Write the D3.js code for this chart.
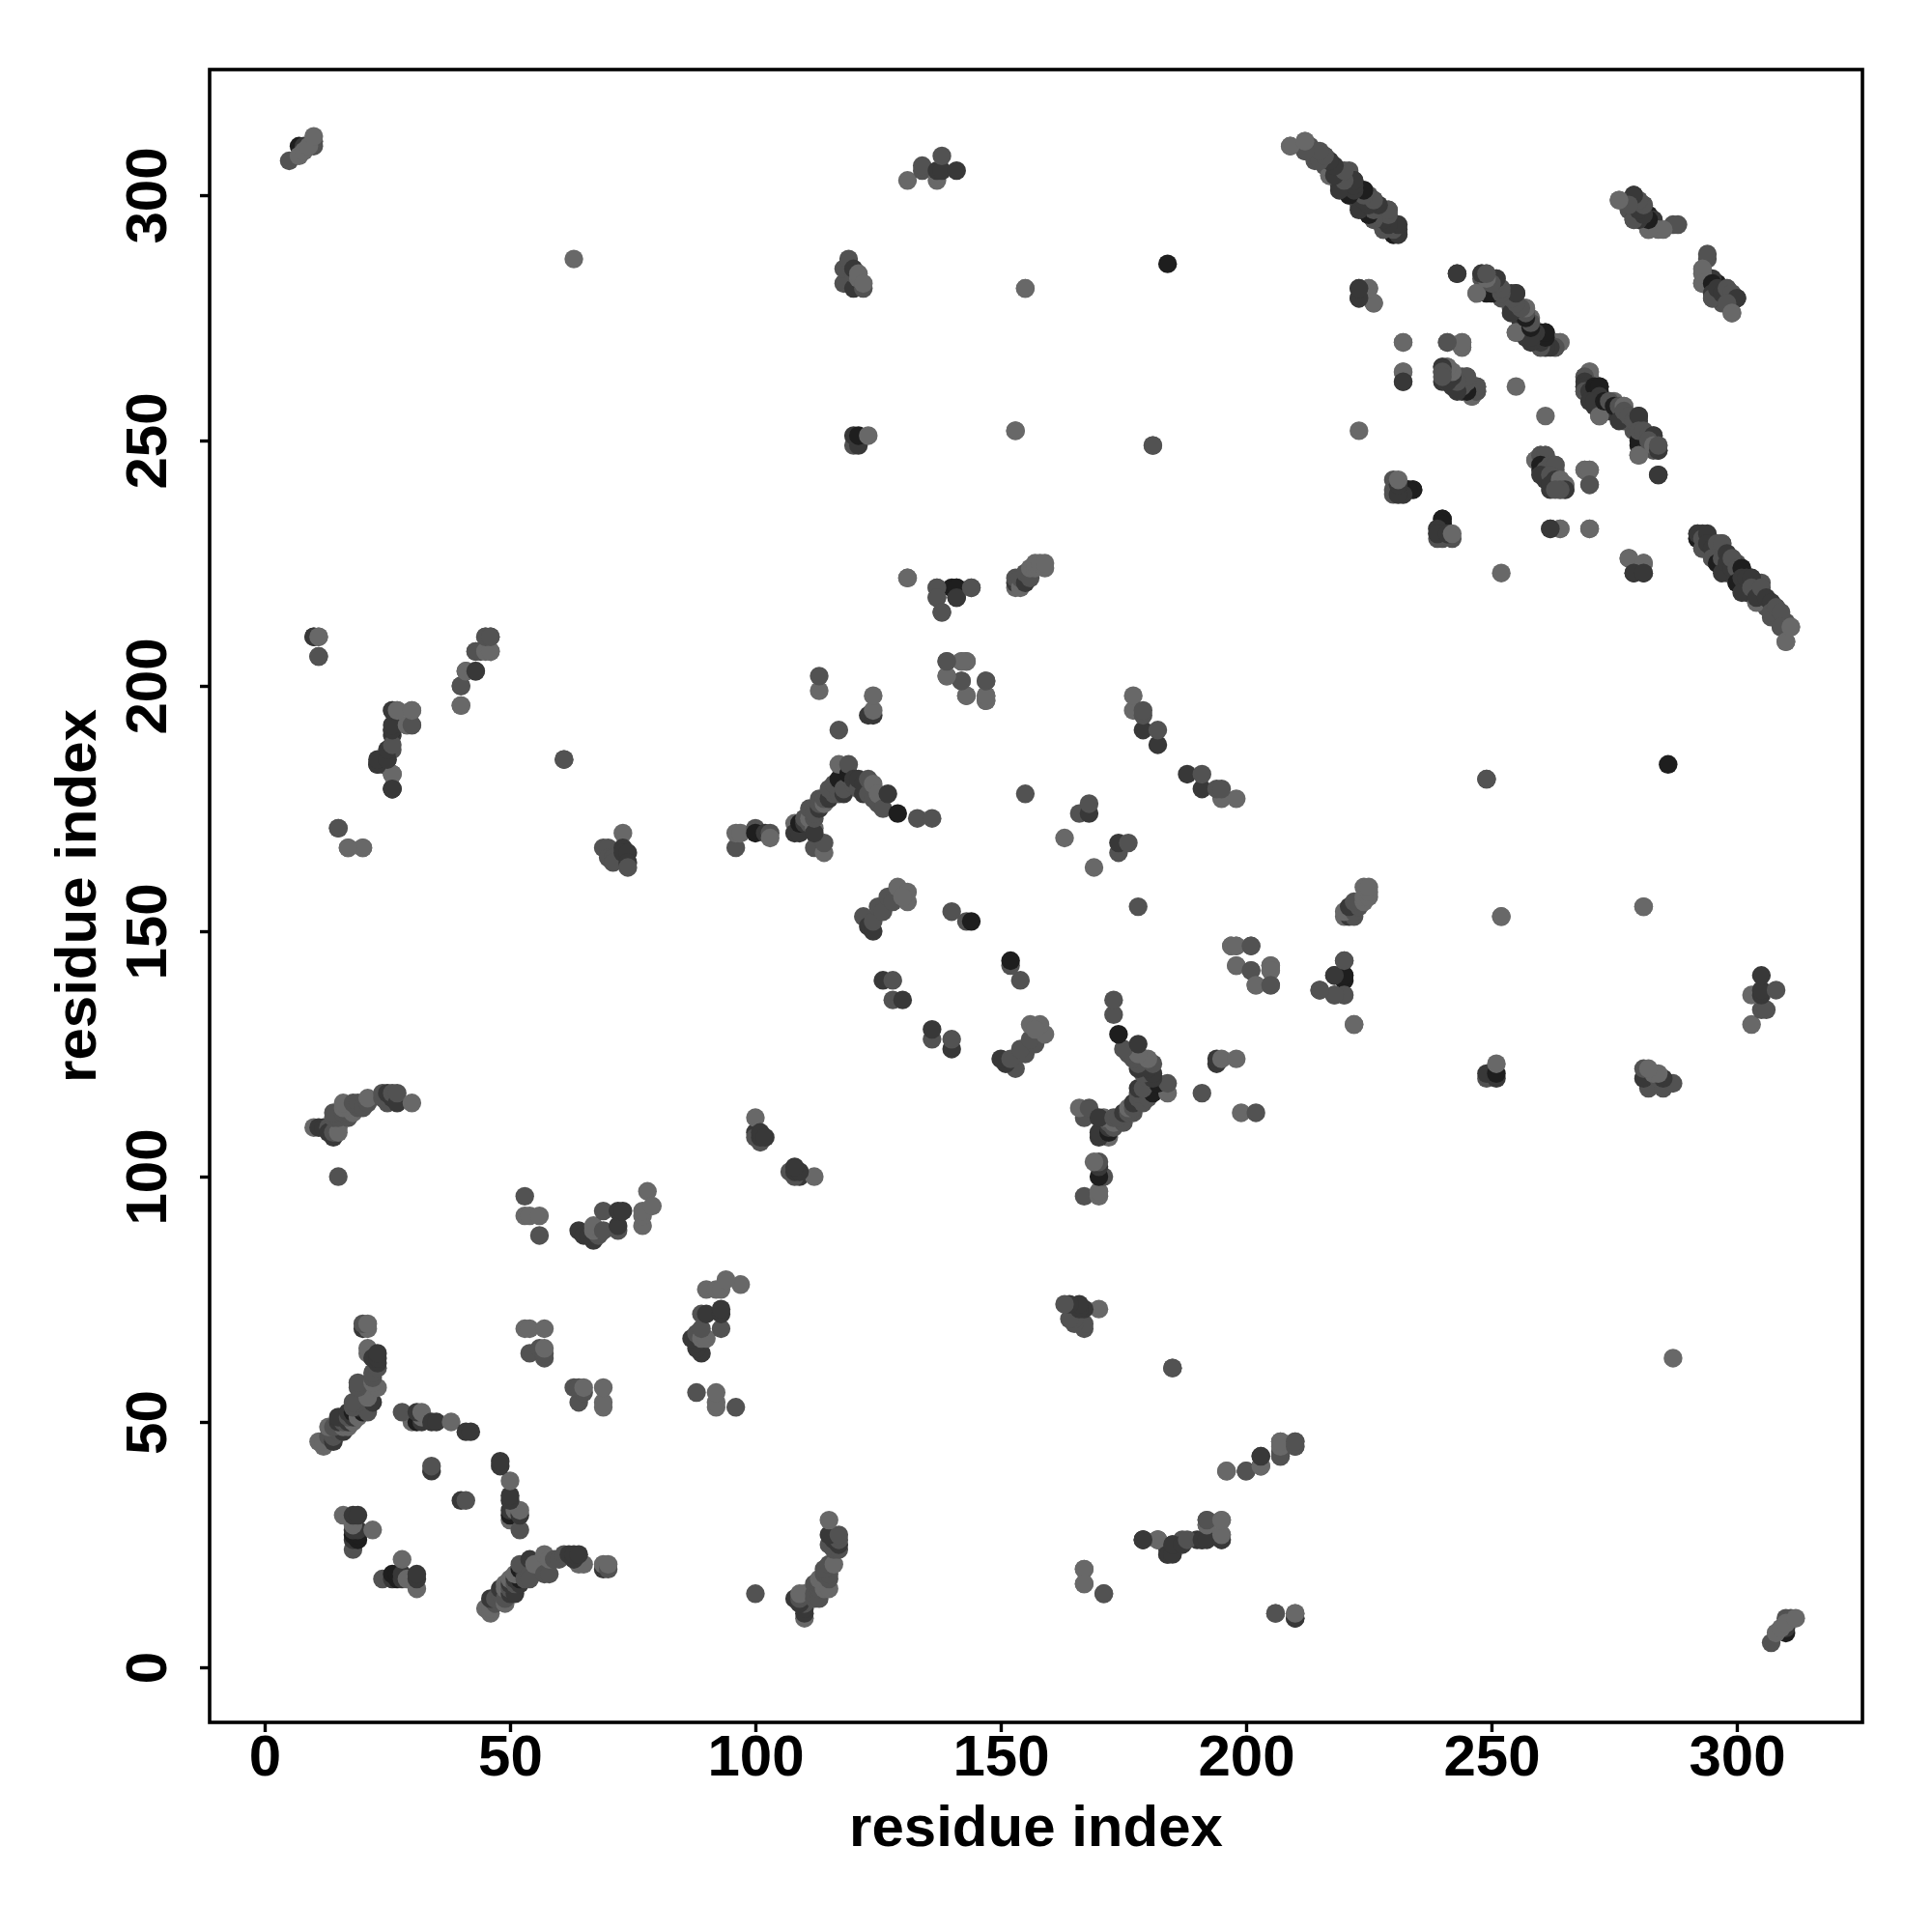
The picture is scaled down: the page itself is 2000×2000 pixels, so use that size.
<!DOCTYPE html>
<html>
<head>
<meta charset="utf-8">
<script src="https://cdn.jsdelivr.net/npm/d3@7/dist/d3.min.js"></script>
<style>html,body{margin:0;padding:0;background:#fff}svg{display:block}</style>
</head>
<body>
<div id="chart"></div>
<script>
const shadeLevels = ["#686868", "#525252", "#383838", "#1e1e1e"];
const xTicks = [0, 50, 100, 150, 200, 250, 300];
const yTicks = [0, 50, 100, 150, 200, 250, 300];
const axisTitle = "residue index";
const axisDomain = [-11.22, 325.6];

const nTerminal = [[7,310,3],[8,310,2],[5,307,1],[7,308,0],[8,309,0],[10,310,1],[10,311,1],[9,310,0],[10,312,0]];
const clusterA = [[12,45,0],[11,46,0],[12,46,0],[13,47,1],[14,46,2],[14,47,1],[15,48,1],[13,49,0],[16,48,2],[14,49,1],[16,49,0],[15,50,2],[17,49,0],[16,50,1],[15,51,2],[17,50,2],[18,50,0],[17,51,1],[18,51,2],[17,52,2],[18,52,3],[19,52,3],[19,51,0],[20,52,3],[19,53,2],[20,53,2],[21,52,1],[18,53,1],[19,54,1],[18,54,1],[22,54,2],[21,55,0],[19,57,1],[19,58,1],[23,57,0],[22,58,0],[22,59,1],[22,60,1],[21,64,0],[21,65,0],[23,61,1],[23,62,2],[22,63,2],[23,63,2],[23,64,2],[20,69,2],[21,69,0],[20,70,1],[21,70,0]];
const clusterB = [[18,24,1],[18,26,2],[19,26,3],[18,27,3],[19,27,3],[18,28,2],[19,28,2],[22,28,0],[18,29,0],[16,31,0],[18,31,2],[19,31,2]];
const clusterC = [[30,50,0],[31,50,3],[32,50,2],[28,52,1],[32,51,0],[31,52,2],[32,52,0],[34,50,2],[35,50,2],[38,50,0],[41,48,2],[42,48,2],[34,40,2],[34,41,1]];
const clusterD = [[10,110,0],[11,110,2],[12,110,2],[13,110,1],[14,110,1],[15,110,0],[14,108,2],[13,109,2],[14,109,1],[15,109,0],[14,112,1],[15,112,1],[17,112,1],[14,113,1],[16,113,1],[17,113,1],[18,113,0],[16,114,0],[19,114,1],[16,115,0],[18,115,1],[19,115,1],[20,114,1],[21,115,1],[21,116,0],[24,116,1],[24,117,1],[25,115,1],[25,117,2],[26,116,2],[26,117,1],[27,115,2],[27,117,1],[30,115,0],[15,100,1]];
const clusterF = [[10,210,2],[11,210,0],[11,206,1],[15,171,1],[17,167,0],[20,167,0],[40,196,0],[40,200,1],[41,203,1],[43,203,1],[43,207,1],[44,207,1],[46,207,1],[45,210,1],[46,210,1]];
const clusterG = [[26,179,2],[26,182,0],[23,184,2],[24,184,2],[25,185,2],[25,186,2],[26,187,1],[26,190,2],[26,191,3],[29,192,1],[30,192,1],[26,195,1],[27,195,1],[30,195,0],[61,185,1],[63,287,0]];
const clusterH = [[53,96,1],[53,92,0],[54,92,0],[56,92,0],[56,88,1],[64,89,2],[65,88,2],[66,88,2],[67,87,2],[68,88,1],[67,89,0],[67,90,0],[69,89,1],[69,93,1],[72,89,1],[72,90,2],[72,93,2],[73,93,2],[77,90,0],[77,92,0],[77,93,0],[78,97,0],[79,94,0]];
const clusterI = [[53,69,0],[54,69,0],[57,69,0],[54,64,1],[56,65,1],[57,63,1],[57,64,1],[57,65,0]];
const clusterJ = [[69,167,1],[70,167,1],[70,165,1],[71,165,1],[71,164,1],[73,170,0],[73,167,2],[73,166,2],[74,166,2],[74,164,2],[74,163,1]];
const clusterK = [[96,167,1],[96,170,0],[97,170,0],[100,171,1],[100,170,3],[102,170,2],[103,170,1],[103,169,0],[112,167,1],[114,166,0],[114,168,1],[108,172,0],[108,170,2],[109,170,2],[109,172,3],[110,172,2],[110,173,1],[111,172,1],[111,173,0],[111,175,1],[112,171,0],[112,170,2],[112,173,1],[112,174,1],[113,175,2],[113,176,1],[113,177,1],[114,176,0],[114,177,1],[115,177,2],[116,178,1],[115,179,1],[117,178,1],[116,180,1],[117,181,3],[118,178,2],[118,179,1],[117,184,0],[119,182,3],[119,184,1],[120,180,1],[120,181,2],[121,179,1],[121,181,2],[122,178,2],[122,180,2],[123,181,1],[123,178,1],[124,177,1],[125,176,1],[124,180,0],[125,178,0],[126,175,1],[127,178,2],[129,174,3],[133,173,1],[136,173,1]];
const clusterL = [[100,109,2],[100,108,1],[100,112,0],[101,107,1],[101,108,2],[101,109,2],[102,108,2]];
const clusterM = [[122,153,1],[123,151,2],[124,150,2],[124,152,1],[125,155,1],[126,154,1],[127,157,1],[128,156,1],[129,159,0],[131,156,0],[131,158,0],[130,157,0],[126,140,2],[128,140,1],[128,136,1],[130,136,2],[140,154,1],[143,152,1],[144,152,3]];
const clusterN = [[113,199,0],[113,202,1],[117,191,1],[123,194,2],[124,194,2],[124,195,0],[124,198,0],[155,178,1],[163,169,0],[166,174,1],[168,174,2],[168,176,1],[177,195,0],[177,198,0],[179,191,2],[179,194,1],[179,195,1],[182,188,2],[182,191,1]];
const clusterQ = [[118,282,1],[118,285,1],[119,287,1],[120,281,2],[120,284,1],[120,285,2],[121,283,0],[121,284,0],[122,281,1],[122,282,0],[120,249,1],[121,249,2],[120,251,2],[121,251,3],[123,251,0],[131,222,0],[137,218,1],[137,220,1],[138,215,1],[140,220,3],[141,220,3],[141,218,2],[144,220,1],[139,202,0],[139,205,1],[142,201,1],[142,205,0],[143,205,1],[143,198,0],[147,197,0],[147,198,0],[147,201,1]];
const clusterR = [[153,220,0],[153,221,2],[153,222,1],[154,220,0],[154,222,1],[155,221,2],[155,223,1],[156,222,1],[156,224,0],[157,224,0],[157,225,0],[158,225,0],[159,224,0],[159,225,0],[155,281,0],[153,252,0],[181,249,1],[184,286,3],[223,252,0]];
const clusterS = [[131,303,0],[134,305,1],[134,306,1],[137,303,0],[137,305,2],[138,305,2],[138,308,1],[141,305,2]];
const clusterV = [[26,179,2],[26,182,0],[182,26,0],[179,26,2],[167,20,0],[167,17,0],[171,15,1],[206,11,1],[210,10,2],[210,11,0],[196,40,0],[200,40,1],[203,41,0],[203,43,2],[207,43,1],[207,45,0],[207,46,0],[210,45,1],[210,46,1],[185,61,1],[184,23,2],[185,23,2],[185,25,2],[187,25,2],[188,26,1],[191,26,2],[192,26,2],[195,26,2],[192,29,0],[192,30,1],[195,27,0],[195,30,0]];
const clusterZ = [[223,281,2],[225,281,0],[223,279,2],[224,280,1],[226,278,0],[243,284,2],[232,270,0],[232,264,0],[232,262,2],[241,270,1],[244,270,0],[244,269,0],[255,261,0],[249,181,1],[252,153,0],[281,155,0],[269,244,0],[270,244,0],[270,241,1],[278,226,0],[281,225,0],[279,223,2],[281,223,2],[284,243,2],[222,131,0],[220,141,3],[220,137,1],[218,137,1],[218,141,2],[215,138,1],[220,144,1],[197,147,0],[198,147,0],[201,147,1],[198,143,0],[201,142,1],[205,143,0],[205,142,0],[202,139,0],[205,139,1],[270,232,0],[264,232,0],[262,232,2]];
const ridgeOne = [[209,310,0],[212,309,2],[212,311,0],[213,310,1],[214,309,1],[215,308,1],[214,307,1],[216,308,2],[217,307,2],[216,306,1],[217,304,0],[218,305,2],[219,305,1],[219,302,2],[220,303,2],[220,304,1],[221,305,1],[221,303,0],[222,303,2],[221,300,2],[222,301,3],[223,301,0],[224,301,3],[223,298,1],[224,299,2],[225,296,0],[225,300,1],[226,299,2],[225,298,2],[227,297,3],[228,297,1],[226,295,0],[229,297,1],[228,293,1],[228,295,2],[229,294,3],[230,294,2],[231,293,2],[231,292,1],[230,292,3]];
const ridgeTwo = [[248,283,1],[248,284,1],[249,284,0],[250,283,1],[251,283,1],[250,281,2],[252,280,2],[249,280,3],[247,280,0],[253,280,1],[252,279,1],[254,280,2],[255,280,2],[254,277,1],[255,278,0],[256,277,0],[257,277,0],[256,274,2],[258,275,0],[257,273,1],[258,274,0],[258,272,2],[255,272,0],[257,271,2],[259,272,1],[260,272,3],[261,272,3],[260,270,2],[259,270,1],[261,269,2],[262,270,2],[263,269,2],[260,269,2],[263,270,0],[264,270,0]];
const ridgeThree = [[270,264,0],[269,263,1],[269,262,2],[269,261,2],[269,260,1],[270,260,2],[271,261,3],[272,261,3],[270,258,2],[272,259,2],[271,258,2],[272,255,0],[273,258,3],[274,258,1],[275,257,3],[276,257,1],[277,257,0],[276,254,2],[277,256,1],[278,255,1],[279,254,1],[280,255,2],[280,250,3],[280,252,1],[281,252,1],[282,251,1],[283,251,2],[280,247,0],[282,250,1],[283,249,0],[284,248,2],[284,249,1]];
const ridgeFour = [[292,230,3],[292,231,2],[293,230,1],[293,228,1],[294,231,2],[294,229,2],[295,228,2],[296,229,1],[297,229,1],[295,226,1],[296,225,3],[297,226,1],[298,227,2],[297,223,2],[298,225,2],[299,224,2],[299,226,1],[300,224,1],[300,221,3],[301,224,3],[301,222,2],[301,219,2],[302,222,2],[303,222,2],[303,220,1],[304,217,0],[304,218,2],[305,220,1],[306,218,2],[307,217,2],[307,215,1],[308,216,1],[309,215,1],[309,212,1],[310,209,0],[311,212,0]];
const ridgeFive = [[276,299,0],[278,297,1],[279,300,2],[279,299,1],[280,296,2],[279,295,2],[281,298,1],[282,296,3],[282,293,1],[283,295,2],[284,293,0],[287,294,1],[294,288,1],[293,285,0],[293,282,0],[295,282,3],[295,280,2],[295,279,1],[296,281,2],[297,280,2],[298,281,1],[299,280,1],[300,279,2],[298,278,1],[299,276,0]];
const sheetOne = [[240,265,1],[240,264,1],[241,265,1],[240,262,2],[241,262,1],[242,264,0],[242,261,2],[243,263,1],[243,262,1],[244,263,1],[245,263,1],[244,260,2],[245,261,3],[246,260,0],[246,259,1],[247,261,1],[247,260,1]];
const sheetTwo = [[259,246,0],[260,247,1],[261,247,1],[260,245,3],[261,244,1],[262,245,1],[263,245,1],[260,243,2],[262,243,1],[263,242,2],[262,241,2],[264,242,0],[265,241,0],[265,240,2],[264,240,1],[263,240,1]];
const sheetThree = [[230,242,1],[230,240,1],[231,241,3],[232,240,3],[233,240,3],[234,240,3],[230,239,1],[232,239,1],[231,239,2],[240,234,3],[240,233,3],[239,232,2],[239,231,2],[241,231,2],[242,231,0]];

const groups = [nTerminal, clusterA, clusterB, clusterC, clusterD, clusterF, clusterG, clusterH, clusterI, clusterJ, clusterK, clusterL, clusterM, clusterN, clusterQ, clusterR, clusterS, clusterV, clusterZ, ridgeOne, ridgeTwo, ridgeThree, ridgeFour, ridgeFive, sheetOne, sheetTwo, sheetThree];
const contacts = groups.flat();
const marks = contacts.flatMap(([i, j, s]) => [{x: i, y: j, s}, {x: j, y: i, s}]);

const svg = d3.select("#chart").append("svg").attr("width", 2000).attr("height", 2000).attr("viewBox", "0 0 2000 2000");
const plotLeft = 217, plotRight = 1928, plotTop = 72, plotBottom = 1783;
const x = d3.scaleLinear().domain(axisDomain).range([plotLeft, plotRight]);
const y = d3.scaleLinear().domain(axisDomain).range([plotBottom, plotTop]);
const font = "'Liberation Sans', Arial, sans-serif";

svg.append("g").selectAll("circle").data(marks).join("circle")
  .attr("cx", d => x(d.x)).attr("cy", d => y(d.y)).attr("r", 9.7)
  .attr("fill", d => shadeLevels[d.s]);

svg.append("rect").attr("x", plotLeft).attr("y", plotTop).attr("width", plotRight - plotLeft).attr("height", plotBottom - plotTop)
  .attr("fill", "none").attr("stroke", "#000").attr("stroke-width", 3.6);

const gx = svg.append("g").attr("transform", `translate(0,${plotBottom})`)
  .call(d3.axisBottom(x).tickValues(xTicks).tickSize(10).tickPadding(2.5).tickFormat(d3.format("d")));
gx.select(".domain").remove();
gx.selectAll("line").attr("stroke", "#000").attr("stroke-width", 3.4);
gx.selectAll("text").attr("font-family", font).attr("font-weight", "bold").attr("font-size", 60).attr("fill", "#000");

const gy = svg.append("g").attr("transform", `translate(${plotLeft},0)`)
  .call(d3.axisLeft(y).tickValues(yTicks).tickSize(10).tickFormat(d3.format("d")));
gy.select(".domain").remove();
gy.selectAll("line").attr("stroke", "#000").attr("stroke-width", 3.4);
gy.selectAll("text")
  .attr("font-family", font).attr("font-weight", "bold").attr("font-size", 60).attr("fill", "#000")
  .attr("text-anchor", "middle").attr("dy", null).attr("x", null).attr("y", null)
  .attr("transform", "translate(-45,0) rotate(-90)");

svg.append("text").attr("x", (plotLeft + plotRight) / 2).attr("y", 1911).attr("text-anchor", "middle")
  .attr("font-family", font).attr("font-weight", "bold").attr("font-size", 60).text(axisTitle);
svg.append("text").attr("transform", `translate(99,${(plotTop + plotBottom) / 2}) rotate(-90)`).attr("text-anchor", "middle")
  .attr("font-family", font).attr("font-weight", "bold").attr("font-size", 60).text(axisTitle);
</script>
</body>
</html>
